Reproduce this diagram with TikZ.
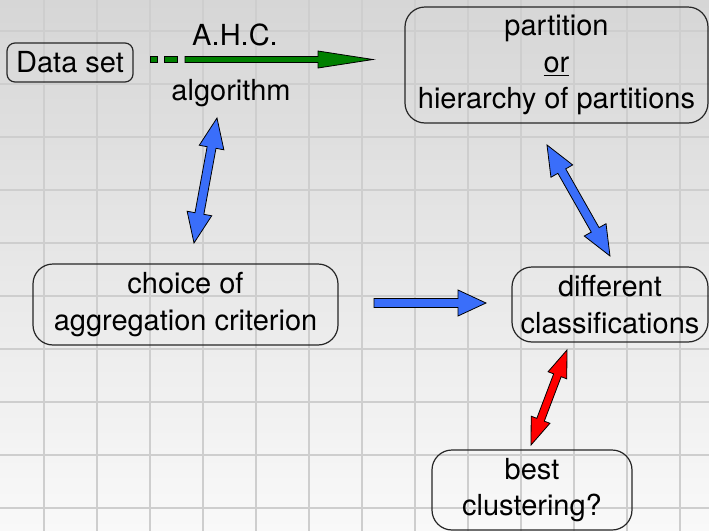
\documentclass[tikz,border=0pt]{standalone}
\usepackage{fontspec}
\setmainfont{TeX Gyre Heros}

\definecolor{bgtop}{RGB}{214,214,214}
\definecolor{bgbottom}{RGB}{249,249,249}
\definecolor{gridgray}{RGB}{206,206,206}
\definecolor{arrblue}{RGB}{58,110,250}
\definecolor{arrgreen}{RGB}{0,128,0}
\definecolor{arrred}{RGB}{255,0,0}

% fat outlined arrows between two named points
% #1 fill, #2 from, #3 to, #4 shaft half width, #5 head half width, #6 head length (pt)
\newcommand\fatarrow[6]{%
  \pgfpointdiff{\pgfpointanchor{#2}{center}}{\pgfpointanchor{#3}{center}}%
  \pgfgetlastxy{\arrdx}{\arrdy}%
  \pgfmathsetmacro\arrang{atan2(\arrdy,\arrdx)}%
  \pgfmathsetmacro\arrlen{veclen(\arrdx,\arrdy)}%
  \pgfmathsetmacro\arrneck{\arrlen-#6}%
  \begin{scope}[shift={(#2)}, rotate=\arrang]
    \draw[arrow line, fill=#1] (0pt,-#4pt) -- (\arrneck pt,-#4pt) -- (\arrneck pt,-#5pt)
      -- (\arrlen pt,0pt) -- (\arrneck pt,#5pt) -- (\arrneck pt,#4pt) -- (0pt,#4pt) -- cycle;
  \end{scope}}

% same, with a head at both ends
\newcommand\fatdarrow[6]{%
  \pgfpointdiff{\pgfpointanchor{#2}{center}}{\pgfpointanchor{#3}{center}}%
  \pgfgetlastxy{\arrdx}{\arrdy}%
  \pgfmathsetmacro\arrang{atan2(\arrdy,\arrdx)}%
  \pgfmathsetmacro\arrlen{veclen(\arrdx,\arrdy)}%
  \pgfmathsetmacro\arrneck{\arrlen-#6}%
  \pgfmathsetmacro\arrtail{#6}%
  \begin{scope}[shift={(#2)}, rotate=\arrang]
    \draw[arrow line, fill=#1] (0pt,0pt) -- (\arrtail pt,-#5pt) -- (\arrtail pt,-#4pt)
      -- (\arrneck pt,-#4pt) -- (\arrneck pt,-#5pt) -- (\arrlen pt,0pt)
      -- (\arrneck pt,#5pt) -- (\arrneck pt,#4pt) -- (\arrtail pt,#4pt)
      -- (\arrtail pt,#5pt) -- cycle;
  \end{scope}}

\begin{document}
\begin{tikzpicture}[
  x=0.5pt, y=-0.5pt,
  every node/.style={font=\fontsize{14.5}{18.3}\selectfont},
  box/.style={
    draw=black!85, line width=0.6pt, rounded corners=10pt,
    align=center, inner sep=0pt
  },
  grid line/.style={draw=gridgray, line width=0.7pt},
  arrow line/.style={draw=black, line width=0.4pt, line join=miter},
]

% background
\shade[top color=bgtop, bottom color=bgbottom] (0,0) rectangle (709,531);
\useasboundingbox (0,0) rectangle (709,531);
\foreach \gx in {-9,44,...,680} \draw[grid line] (\gx,0) -- (\gx,531);
\foreach \gy in {31,84,...,508} \draw[grid line] (0,\gy) -- (709,\gy);

% boxes
\node[box, rounded corners=4pt, minimum width=63pt, minimum height=19.5pt] (data) at (70,62.5) {Data set};
\node[box, minimum width=151.5pt, minimum height=58pt] (part) at (556.5,65) {partition\\\underline{or}\\hierarchy of partitions};
\node[box, minimum width=152.5pt, minimum height=40.5pt] (crit) at (185.5,304.5) {choice of\\aggregation criterion};
\node[box, minimum width=98pt, minimum height=37.5pt] (diff) at (610,304.5) {different\\classifications};
\node[box, minimum width=100pt, minimum height=40pt] (best) at (532,490) {best\\clustering?};

% labels of the algorithm arrow
\node[anchor=base] (ahc) at (235,45) {A.H.C.};
\node[anchor=base] (alg) at (231,100) {algorithm};

% arrow ends
\coordinate (ahc-s) at (185,59.5);
\coordinate (ahc-e) at (373,59.5);
\coordinate (alg-s) at (217,118);
\coordinate (crit-n) at (194,243);
\coordinate (crit-e) at (374,303);
\coordinate (diff-w) at (486,303);
\coordinate (part-s) at (547,145);
\coordinate (diff-n) at (610,256);
\coordinate (diff-s) at (567,350);
\coordinate (best-n) at (531,445);

% Data set -> partition
\draw[arrow line, fill=arrgreen] (150,56.5) rectangle (157,62.5);
\draw[arrow line, fill=arrgreen] (164,56.5) rectangle (177,62.5);
\fatarrow{arrgreen}{ahc-s}{ahc-e}{1.5}{4.25}{27.5}

% blue ones
\fatdarrow{arrblue}{crit-n}{alg-s}{2.25}{6.25}{15}
\fatarrow{arrblue}{crit-e}{diff-w}{2.25}{6.5}{14}
\fatdarrow{arrblue}{part-s}{diff-n}{2.25}{6.25}{15}

% red one
\fatdarrow{arrred}{best-n}{diff-s}{2}{5}{13.5}

\end{tikzpicture}
\end{document}
